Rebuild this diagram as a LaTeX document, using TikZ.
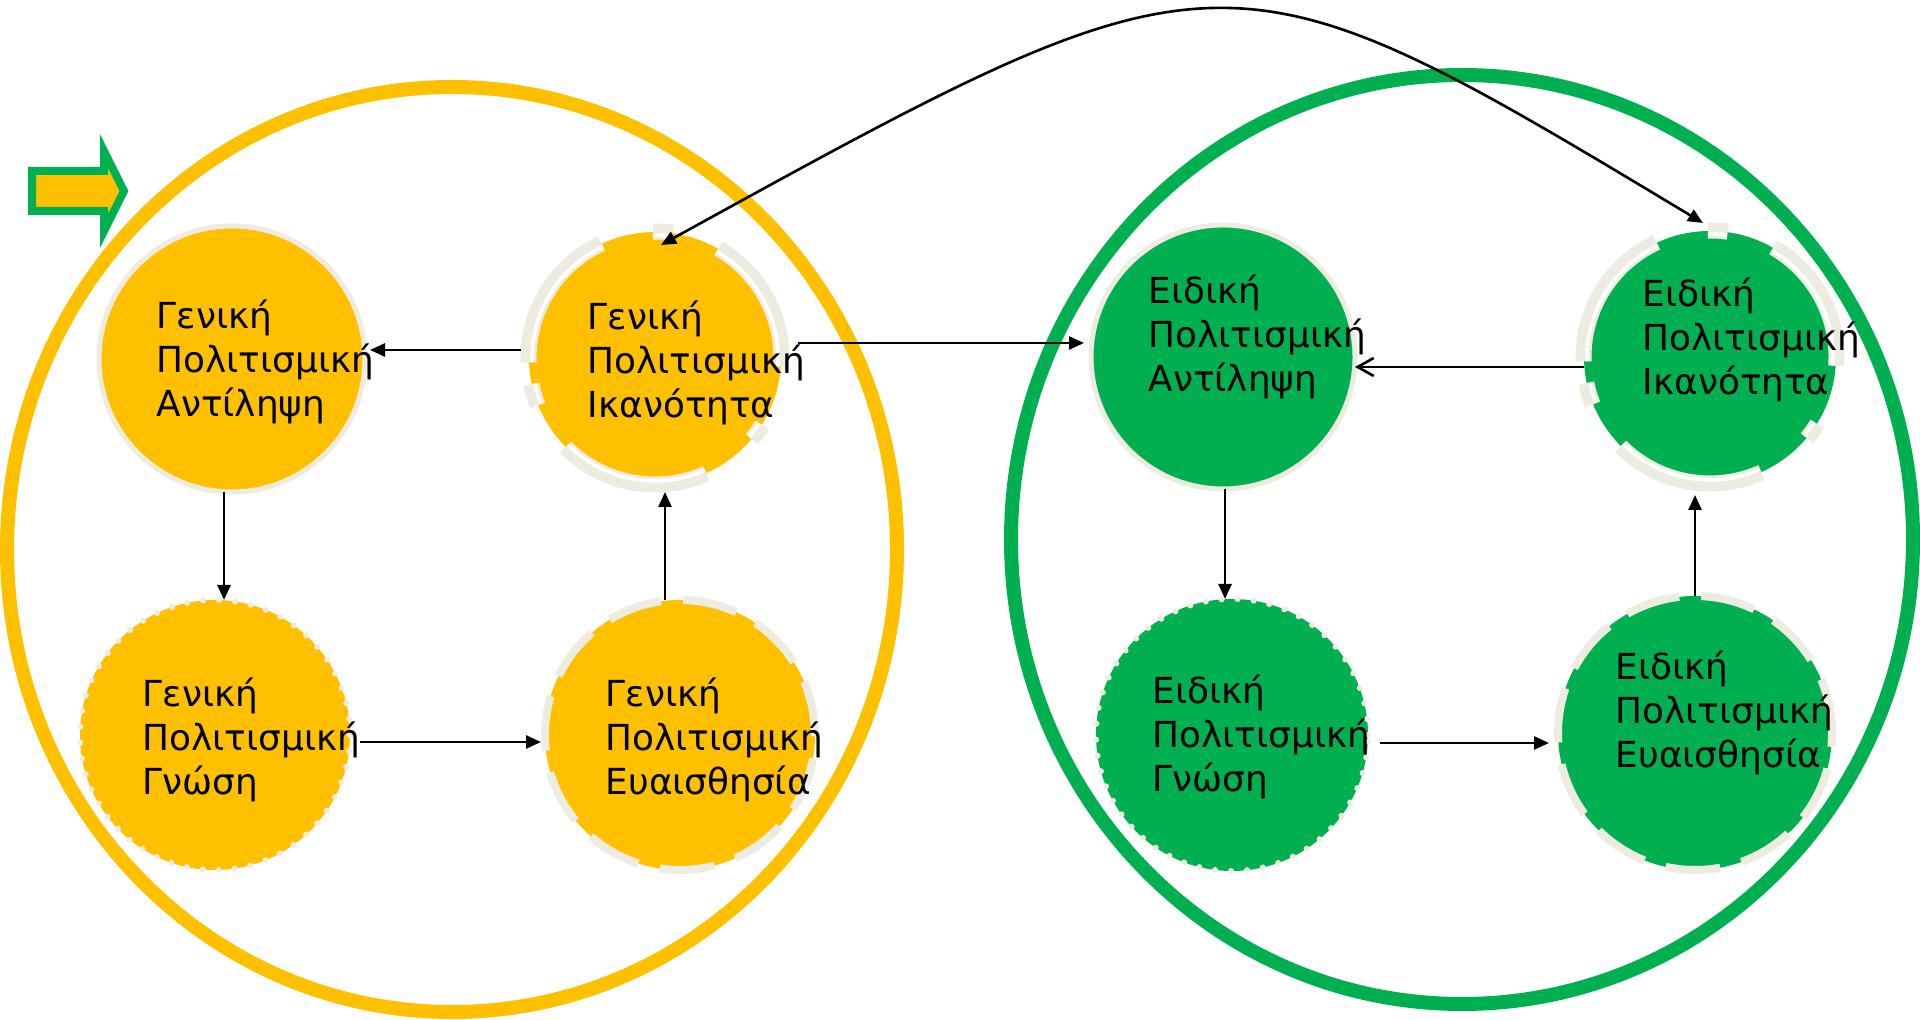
\documentclass[tikz,border=0pt]{standalone}
\usepackage{fontspec}
\usetikzlibrary{arrows.meta}
\newfontfamily\grfont{DejaVu Sans}
\definecolor{gold}{HTML}{FFC000}
\definecolor{leaf}{HTML}{00B050}
\definecolor{sand}{HTML}{EEECE1}

\tikzset{
  gen/.style={circle, fill=gold, inner sep=0pt, outer sep=0pt},
  spec/.style={circle, fill=leaf, inner sep=0pt, outer sep=0pt},
  txt/.style={anchor=west, align=left, inner sep=0pt, font=\grfont\fontsize{10.2}{12.5}\selectfont},
  arr/.style={-{Triangle[length=0.15cm,width=0.13cm]}, line width=0.75pt},
  openarr/.style={-{Straight Barb[length=0.16cm,width=0.18cm]}, line width=0.75pt},
  plainring/.style={draw=sand, line width=0.05cm},
  dotring/.style={draw=sand, line width=0.06cm, line cap=round, dash pattern=on 0pt off 0.16cm},
  dashring/.style={draw=sand, line width=0.08cm, dash pattern=on 0.55cm off 0.22cm},
  outerring/.style={draw=sand, line width=0.16cm},
  innergap/.style={draw=white, line width=0.035cm}
}

\begin{document}
\begin{tikzpicture}
    \useasboundingbox (0,0) rectangle (19.2,10.2);

    % big rings
    \draw[gold, line width=0.14cm] (4.52,4.705) ellipse[x radius=4.45, y radius=4.625];
    \draw[leaf, line width=0.14cm] (14.62,4.805) ellipse[x radius=4.51, y radius=4.645];

    % start marker
    \draw[leaf, fill=gold, line width=0.08cm, miter limit=10]
        (0.32,8.49) -- (1.04,8.49) -- (1.04,8.69) -- (1.24,8.29) -- (1.04,7.89) -- (1.04,8.09) -- (0.32,8.09) -- cycle;

    % general (yellow)
    \node[gen, minimum size=2.66cm] (GA) at (2.32,6.61) {};
    \node[gen, minimum size=2.52cm] (GI) at (6.55,6.62) {};
    \node[gen, minimum size=2.70cm] (GG) at (2.15,2.85) {};
    \node[gen, minimum size=2.70cm] (GE) at (6.80,2.85) {};

    % specific (green)
    \node[spec, minimum size=2.64cm] (EA) at (12.23,6.63) {};
    \node[spec, minimum size=2.52cm] (EI) at (17.10,6.63) {};
    \node[spec, minimum size=2.72cm] (EG) at (12.32,2.85) {};
    \node[spec, minimum size=2.74cm] (EE) at (16.95,2.87) {};

    % borders
    \draw[plainring] (GA.center) circle[radius=1.33];
    \draw[plainring] (EA.center) circle[radius=1.32];
    \draw[dotring] (GG.center) circle[radius=1.35];
    \draw[dotring] (EG.center) circle[radius=1.36];
    \draw[dashring] (GE.center) circle[radius=1.35];
    \draw[dashring] (EE.center) circle[radius=1.37];
    \foreach \n in {GI,EI} {
      \foreach \a/\b in {82/91,115/182,192/202,225/294,320/328,356/420} {
        \draw[outerring] ([shift={(\a:1.265)}]\n.center) arc[start angle=\a, end angle=\b, radius=1.265];
        \draw[innergap] ([shift={(\a:1.23)}]\n.center) arc[start angle=\a, end angle=\b, radius=1.23];
      }
    }

    % labels
    \node[txt] (GA-t) at ([xshift=-0.76cm,yshift=-0.03cm]GA.center) {Γενική\\Πολιτισμική\\Αντίληψη};
    \node[txt] (GI-t) at ([xshift=-0.68cm,yshift=-0.05cm]GI.center) {Γενική\\Πολιτισμική\\Ικανότητα};
    \node[txt] (GG-t) at ([xshift=-0.73cm,yshift=-0.05cm]GG.center) {Γενική\\Πολιτισμική\\Γνώση};
    \node[txt] (GE-t) at ([xshift=-0.75cm,yshift=-0.05cm]GE.center) {Γενική\\Πολιτισμική\\Ευαισθησία};
    \node[txt] (EA-t) at ([xshift=-0.75cm,yshift=0.20cm]EA.center) {Ειδική\\Πολιτισμική\\Αντίληψη};
    \node[txt] (EI-t) at ([xshift=-0.68cm,yshift=0.17cm]EI.center) {Ειδική\\Πολιτισμική\\Ικανότητα};
    \node[txt] (EG-t) at ([xshift=-0.80cm,yshift=-0.02cm]EG.center) {Ειδική\\Πολιτισμική\\Γνώση};
    \node[txt] (EE-t) at ([xshift=-0.80cm,yshift=0.20cm]EE.center) {Ειδική\\Πολιτισμική\\Ευαισθησία};

    % cycle, general
    \draw[arr] ([xshift=-0.08cm,yshift=0.08cm]GI.west) -- ([xshift=0.05cm,yshift=0.08cm]GI.west -| GA.east);
    \draw[arr] ([xshift=-0.08cm]GA.south) -- ([xshift=-0.08cm]GA.south |- GG.north);
    \draw[arr] ([xshift=0.1cm,yshift=-0.07cm]GG.east) -- ([xshift=-0.04cm,yshift=-0.07cm]GG.east -| GE.west);
    \draw[arr] ([xshift=-0.15cm]GE.north) -- ([xshift=-0.15cm,yshift=-0.08cm]GE.north |- GI.south);

    % link between the two
    \draw[arr] ([xshift=0.17cm,yshift=0.15cm]GI.east) -- ([xshift=-0.07cm,yshift=0.15cm]GI.east -| EA.west);
    \draw[arr, {Triangle[length=0.15cm,width=0.13cm]}-{Triangle[length=0.15cm,width=0.13cm]}]
        ([xshift=0.06cm,yshift=-0.13cm]GI.north) .. controls (12.24,10.85) .. ([xshift=-0.07cm,yshift=0.08cm]EI.north);

    % cycle, specific
    \draw[openarr] ([yshift=-0.1cm]EI.west) -- ([yshift=-0.1cm]EI.west -| EA.east);
    \draw[arr] ([xshift=0.02cm]EA.south) -- ([xshift=0.02cm]EA.south |- EG.north);
    \draw[arr] ([xshift=0.12cm,yshift=-0.08cm]EG.east) -- ([xshift=-0.09cm,yshift=-0.08cm]EG.east -| EE.west);
    \draw[arr] (EE.north) -- ([yshift=-0.12cm]EE.north |- EI.south);
\end{tikzpicture}
\end{document}
